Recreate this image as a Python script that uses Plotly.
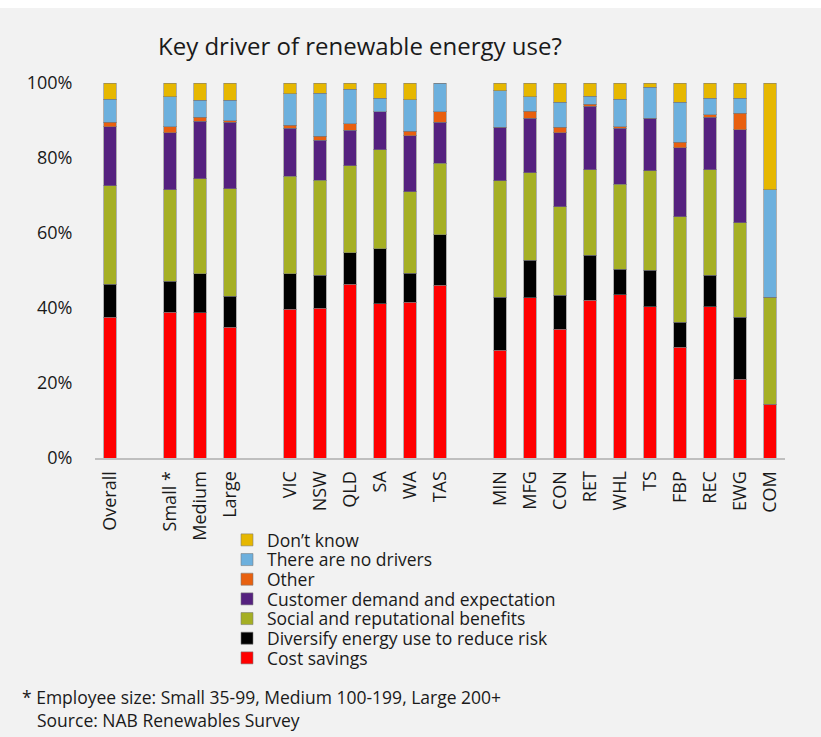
import plotly.graph_objects as go

# Survey breakdown (% of respondents) by business group
categories = ["Overall", "Small *", "Medium", "Large",
              "VIC", "NSW", "QLD", "SA", "WA", "TAS",
              "MIN", "MFG", "CON", "RET", "WHL", "TS", "FBP", "REC", "EWG", "COM"]

cost_savings = [37.6, 38.9, 38.7, 34.9, 39.7, 40.0, 46.4, 41.1, 41.6, 46.1,
                28.7, 42.7, 34.4, 42.1, 43.5, 40.3, 29.5, 40.3, 21.0, 14.3]
diversify = [8.8, 8.3, 10.4, 8.3, 9.4, 8.8, 8.3, 14.7, 7.7, 13.4,
             14.2, 10.1, 9.0, 12.0, 6.9, 9.8, 6.7, 8.5, 16.5, 0]
social = [26.2, 24.4, 25.4, 28.6, 26.0, 25.3, 23.3, 26.4, 21.7, 19.1,
          31.1, 23.3, 23.6, 22.8, 22.6, 26.5, 28.2, 28.1, 25.3, 28.6]
customer = [15.7, 15.2, 15.3, 17.7, 12.8, 10.6, 9.4, 10.2, 15.0, 10.9,
            14.2, 14.5, 19.8, 16.9, 14.9, 14.0, 18.4, 14.0, 24.8, 0]
other = [1.2, 1.6, 1.1, 0.4, 0.9, 1.1, 1.8, 0, 1.2, 2.8,
         0, 1.9, 1.4, 0.6, 0.5, 0, 1.4, 0.7, 4.4, 0]
no_drivers = [6.2, 8.0, 4.5, 5.5, 8.3, 11.5, 9.2, 3.6, 8.3, 7.7,
              9.7, 3.9, 6.7, 2.1, 7.3, 8.3, 10.7, 4.4, 4.0, 28.6]
dont_know = [4.3, 3.6, 4.6, 4.6, 2.9, 2.7, 1.6, 4.0, 4.5, 0,
             2.1, 3.6, 5.1, 3.5, 4.3, 1.1, 5.1, 4.0, 4.0, 28.5]

# Axis order, with blank spacer slots between the groups
axis_order = ["Overall", " ", "Small *", "Medium", "Large", "  ",
              "VIC", "NSW", "QLD", "SA", "WA", "TAS", "   ",
              "MIN", "MFG", "CON", "RET", "WHL", "TS", "FBP", "REC", "EWG", "COM"]

y_ticks = [0, 20, 40, 60, 80, 100]
y_tick_labels = ["0%", "20%", "40%", "60%", "80%", "100%"]

series = [
    ("Cost savings", cost_savings, "#FF0000"),
    ("Diversify energy use to reduce risk", diversify, "#000000"),
    ("Social and reputational benefits", social, "#A5AF24"),
    ("Customer demand and expectation", customer, "#55217F"),
    ("Other", other, "#E8600F"),
    ("There are no drivers", no_drivers, "#6DB0DD"),
    ("Don\u2019t know", dont_know, "#E6B700"),
]

W, H = 821, 737
L, R, T, B = 95, 36, 83, 279
plot_w = W - L - R
plot_h = H - T - B


def px_x(x):
    return (x - L) / plot_w


def px_y(y):
    return (H - B - y) / plot_h


FONT = "Open Sans"
TXT = "#1a1a1a"

fig = go.Figure()
legend_names = ["legend"] + [f"legend{i}" for i in range(2, 8)]
legend_rows = [658, 638.3, 618.7, 599, 579.3, 559.7, 540]

for (name, vals, color), lg in zip(series, legend_names):
    fig.add_trace(go.Bar(
        x=categories, y=vals, name=name, legend=lg,
        marker=dict(color=color, line=dict(color="rgba(120,120,120,0.55)", width=1)),
        width=0.42,
    ))

layout_legends = {}
for lg, yc in zip(legend_names, legend_rows):
    layout_legends[lg] = dict(
        x=px_x(227), xanchor="left", y=px_y(yc), yanchor="middle",
        bgcolor="rgba(0,0,0,0)", font=dict(family=FONT, size=17.5, color=TXT),
        itemclick=False, itemdoubleclick=False,
    )

fig.update_layout(
    width=W, height=H,
    margin=dict(l=L, r=R, t=T, b=B, pad=0),
    barmode="stack",
    paper_bgcolor="#F2F2F2", plot_bgcolor="#F2F2F2",
    font=dict(family=FONT, size=18, color=TXT),
    showlegend=True,
    xaxis=dict(
        type="category", categoryorder="array", categoryarray=axis_order,
        range=[-0.5, len(axis_order) - 0.5],
        showline=True, linecolor="#BFBFBF", linewidth=2,
        showgrid=False, zeroline=False,
        ticks="outside", ticklen=4, tickcolor="rgba(0,0,0,0)",
        tickangle=-90, tickfont=dict(family=FONT, size=18, color=TXT),
    ),
    yaxis=dict(
        range=[0, 100], tickmode="array", tickvals=y_ticks, ticktext=y_tick_labels,
        showgrid=False, zeroline=False, showline=False,
        ticks="outside", ticklen=18, tickcolor="rgba(0,0,0,0)",
        tickfont=dict(family=FONT, size=18, color=TXT),
    ),
    annotations=[
        dict(text="Key driver of renewable energy use?", xref="paper", yref="paper",
             x=px_x(156), y=px_y(46), xanchor="left", yanchor="middle",
             showarrow=False, font=dict(family=FONT, size=24, color=TXT)),
        dict(text="* Employee size: Small 35-99, Medium 100-199, Large 200+",
             xref="paper", yref="paper", x=px_x(20), y=px_y(697),
             xanchor="left", yanchor="middle", showarrow=False,
             font=dict(family=FONT, size=17.5, color=TXT)),
        dict(text="Source: NAB Renewables Survey",
             xref="paper", yref="paper", x=px_x(35), y=px_y(720),
             xanchor="left", yanchor="middle", showarrow=False,
             font=dict(family=FONT, size=17.5, color=TXT)),
    ],
    shapes=[
        dict(type="rect", xref="paper", yref="paper", layer="above",
             x0=px_x(-5), x1=px_x(W + 5), y0=px_y(8), y1=px_y(-5),
             fillcolor="white", line=dict(width=0)),
    ],
    **layout_legends,
)

fig.write_html("out.html")
